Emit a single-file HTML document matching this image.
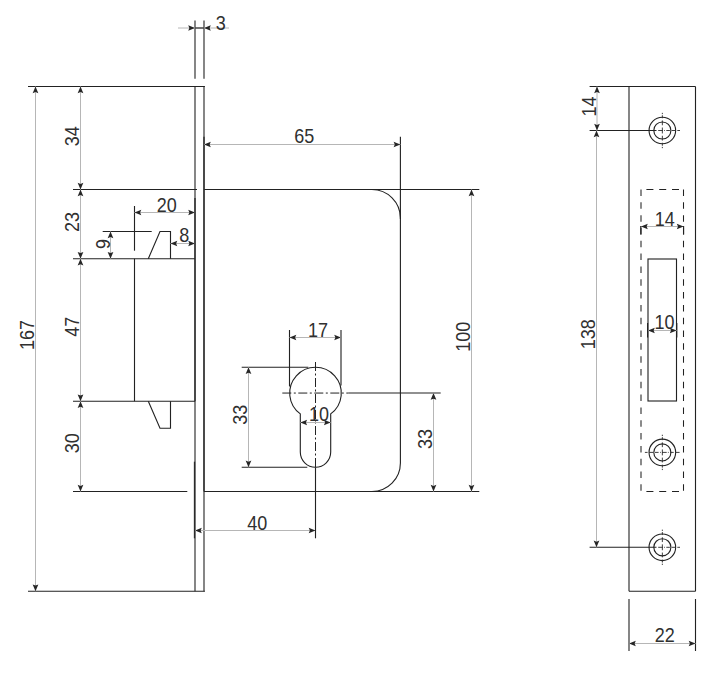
<!DOCTYPE html>
<html><head><meta charset="utf-8"><title>Lock drawing</title>
<style>
html,body{margin:0;padding:0;background:#fff}
svg{display:block}
text{font-family:"Liberation Sans",sans-serif;font-size:20px;fill:#303030}
.o{stroke:#222;stroke-width:1.12;fill:none}
.p{stroke:#222;stroke-width:1.1;fill:none}
.e{stroke:#222;stroke-width:1.1;fill:none}
.e2{stroke:#2a2a2a;stroke-width:1.3;fill:none}
.d{stroke:#b6b6b6;stroke-width:1;fill:none}
.a{fill:#262626;stroke:none}
.c{stroke:#222;stroke-width:1;fill:none;stroke-dasharray:9 2.5 2 2.5}
.c2{stroke:#2a2a2a;stroke-width:0.9;fill:none}
.hv{stroke:#222;stroke-width:1.05;fill:none;stroke-dasharray:6.5 6.32}
.hh{stroke:#222;stroke-width:1.05;fill:none;stroke-dasharray:7 5.8}
</style></head><body>
<svg width="725" height="678" viewBox="0 0 725 678">
<rect x="0" y="0" width="725" height="678" fill="#fff"/>
<line class="o" x1="28.00" y1="86.50" x2="204.90" y2="86.50"/>
<line class="o" x1="28.00" y1="591.20" x2="204.90" y2="591.20"/>
<line class="p" x1="195.00" y1="86.50" x2="195.00" y2="591.20"/>
<line class="p" x1="204.00" y1="86.50" x2="204.00" y2="591.20"/>
<line class="e" x1="195.00" y1="20.40" x2="195.00" y2="78.80"/>
<line class="e" x1="204.00" y1="20.40" x2="204.00" y2="78.80"/>
<line class="d" x1="178.00" y1="28.00" x2="229.00" y2="28.00"/>
<line class="o" x1="195.00" y1="28.00" x2="204.00" y2="28.00"/>
<polygon class="a" points="195.00,28.00 188.20,30.85 189.40,28.00 188.20,25.15"/>
<polygon class="a" points="204.00,28.00 210.80,25.15 209.60,28.00 210.80,30.85"/>
<text transform="translate(220.70 30.00) scale(0.90 1)" text-anchor="middle">3</text>
<line class="d" x1="35.50" y1="86.50" x2="35.50" y2="591.20"/>
<polygon class="a" points="35.50,86.50 38.35,93.30 35.50,92.10 32.65,93.30"/>
<polygon class="a" points="35.50,591.20 32.65,584.40 35.50,585.60 38.35,584.40"/>
<text transform="translate(34.00 335.00) rotate(-90) scale(0.90 1)" text-anchor="middle">167</text>
<line class="o" x1="73.00" y1="189.50" x2="197.00" y2="189.50"/>
<line class="o" x1="73.00" y1="258.70" x2="195.00" y2="258.70"/>
<line class="o" x1="73.00" y1="401.20" x2="195.00" y2="401.20"/>
<line class="o" x1="73.00" y1="491.50" x2="187.30" y2="491.50"/>
<line class="d" x1="80.50" y1="86.50" x2="80.50" y2="189.50"/>
<polygon class="a" points="80.50,86.50 83.35,93.30 80.50,92.10 77.65,93.30"/>
<polygon class="a" points="80.50,189.50 77.65,182.70 80.50,183.90 83.35,182.70"/>
<line class="d" x1="80.50" y1="189.50" x2="80.50" y2="258.70"/>
<polygon class="a" points="80.50,189.50 83.35,196.30 80.50,195.10 77.65,196.30"/>
<polygon class="a" points="80.50,258.70 77.65,251.90 80.50,253.10 83.35,251.90"/>
<line class="d" x1="80.50" y1="258.70" x2="80.50" y2="401.20"/>
<polygon class="a" points="80.50,258.70 83.35,265.50 80.50,264.30 77.65,265.50"/>
<polygon class="a" points="80.50,401.20 77.65,394.40 80.50,395.60 83.35,394.40"/>
<line class="d" x1="80.50" y1="401.20" x2="80.50" y2="491.50"/>
<polygon class="a" points="80.50,401.20 83.35,408.00 80.50,406.80 77.65,408.00"/>
<polygon class="a" points="80.50,491.50 77.65,484.70 80.50,485.90 83.35,484.70"/>
<text transform="translate(79.00 136.30) rotate(-90) scale(0.90 1)" text-anchor="middle">34</text>
<text transform="translate(79.00 222.00) rotate(-90) scale(0.90 1)" text-anchor="middle">23</text>
<text transform="translate(79.00 326.70) rotate(-90) scale(0.90 1)" text-anchor="middle">47</text>
<text transform="translate(79.00 443.30) rotate(-90) scale(0.90 1)" text-anchor="middle">30</text>
<line class="o" x1="134.50" y1="206.00" x2="134.50" y2="250.70"/>
<line class="o" x1="134.50" y1="258.70" x2="134.50" y2="401.20"/>
<line class="d" x1="134.50" y1="212.50" x2="195.00" y2="212.50"/>
<polygon class="a" points="134.50,212.50 141.30,209.65 140.10,212.50 141.30,215.35"/>
<polygon class="a" points="195.00,212.50 188.20,215.35 189.40,212.50 188.20,209.65"/>
<text transform="translate(166.70 212.00) scale(0.90 1)" text-anchor="middle">20</text>
<line class="o" x1="102.70" y1="231.50" x2="151.70" y2="231.50"/>
<polyline class="o" points="148.3,258.7 160,231.5 170.5,231.5 170.5,258.7"/>
<line class="d" x1="110.50" y1="231.50" x2="110.50" y2="258.70"/>
<polygon class="a" points="110.50,231.50 113.35,238.30 110.50,237.10 107.65,238.30"/>
<polygon class="a" points="110.50,258.70 107.65,251.90 110.50,253.10 113.35,251.90"/>
<text transform="translate(109.80 244.00) rotate(-90) scale(0.90 1)" text-anchor="middle">9</text>
<line class="d" x1="170.50" y1="243.50" x2="195.00" y2="243.50"/>
<polygon class="a" points="170.50,243.50 177.30,240.65 176.10,243.50 177.30,246.35"/>
<polygon class="a" points="195.00,243.50 188.20,246.35 189.40,243.50 188.20,240.65"/>
<text transform="translate(184.20 242.30) scale(0.90 1)" text-anchor="middle">8</text>
<polyline class="o" points="148.3,401.2 160,428.3 170.5,428.3 170.5,401.2"/>
<line class="o" x1="204.00" y1="189.50" x2="479.30" y2="189.50"/>
<line class="o" x1="204.00" y1="491.50" x2="479.30" y2="491.50"/>
<path class="o" d="M371.9,189.5 A28.5,28.5 0 0 1 400.4,218.0 L400.4,463.0 A28.5,28.5 0 0 1 371.9,491.5"/>
<line class="o" x1="400.40" y1="136.70" x2="400.40" y2="219.00"/>
<line class="e2" x1="204.00" y1="136.70" x2="204.00" y2="491.50"/>
<line class="e2" x1="195.00" y1="198.00" x2="195.00" y2="401.20"/>
<line class="d" x1="204.00" y1="144.50" x2="400.40" y2="144.50"/>
<polygon class="a" points="204.00,144.50 210.80,141.65 209.60,144.50 210.80,147.35"/>
<polygon class="a" points="400.40,144.50 393.60,147.35 394.80,144.50 393.60,141.65"/>
<text transform="translate(304.30 143.30) scale(0.90 1)" text-anchor="middle">65</text>
<line class="d" x1="471.50" y1="189.50" x2="471.50" y2="491.50"/>
<polygon class="a" points="471.50,189.50 474.35,196.30 471.50,195.10 468.65,196.30"/>
<polygon class="a" points="471.50,491.50 468.65,484.70 471.50,485.90 474.35,484.70"/>
<text transform="translate(470.30 336.70) rotate(-90) scale(0.90 1)" text-anchor="middle">100</text>
<line class="e2" x1="194.50" y1="461.70" x2="194.50" y2="538.30"/>
<line class="d" x1="195.00" y1="530.50" x2="315.50" y2="530.50"/>
<polygon class="a" points="195.00,530.50 201.80,527.65 200.60,530.50 201.80,533.35"/>
<polygon class="a" points="315.50,530.50 308.70,533.35 309.90,530.50 308.70,527.65"/>
<text transform="translate(257.30 530.00) scale(0.90 1)" text-anchor="middle">40</text>
<path class="o" d="M300.30,413.90 A25.80,25.80 0 1 1 330.70,413.90 L330.70,452.10 A15.20,15.20 0 0 1 300.30,452.10 Z"/>
<line class="c" x1="315.50" y1="362" x2="315.50" y2="467.3"/>
<line class="o" x1="315.50" y1="467.30" x2="315.50" y2="538.30"/>
<line class="c" x1="282.3" y1="393.05" x2="348.3" y2="393.05"/>
<line class="o" x1="348.30" y1="393.05" x2="440.70" y2="393.05"/>
<line class="o" x1="289.50" y1="330.00" x2="289.50" y2="386.50"/>
<line class="o" x1="341.00" y1="330.00" x2="341.00" y2="385.50"/>
<line class="d" x1="289.50" y1="337.50" x2="341.00" y2="337.50"/>
<polygon class="a" points="289.50,337.50 296.30,334.65 295.10,337.50 296.30,340.35"/>
<polygon class="a" points="341.00,337.50 334.20,340.35 335.40,337.50 334.20,334.65"/>
<text transform="translate(318.00 336.80) scale(0.90 1)" text-anchor="middle">17</text>
<line class="d" x1="300.30" y1="422.50" x2="330.70" y2="422.50"/>
<polygon class="a" points="300.30,422.50 307.10,419.65 305.90,422.50 307.10,425.35"/>
<polygon class="a" points="330.70,422.50 323.90,425.35 325.10,422.50 323.90,419.65"/>
<text transform="translate(319.00 420.70) scale(0.90 1)" text-anchor="middle">10</text>
<line class="o" x1="241.70" y1="367.25" x2="308.30" y2="367.25"/>
<line class="o" x1="241.70" y1="467.30" x2="307.30" y2="467.30"/>
<line class="d" x1="248.50" y1="367.25" x2="248.50" y2="467.30"/>
<polygon class="a" points="248.50,367.25 251.35,374.05 248.50,372.85 245.65,374.05"/>
<polygon class="a" points="248.50,467.30 245.65,460.50 248.50,461.70 251.35,460.50"/>
<text transform="translate(246.90 414.70) rotate(-90) scale(0.90 1)" text-anchor="middle">33</text>
<line class="d" x1="433.50" y1="393.05" x2="433.50" y2="491.50"/>
<polygon class="a" points="433.50,393.05 436.35,399.85 433.50,398.65 430.65,399.85"/>
<polygon class="a" points="433.50,491.50 430.65,484.70 433.50,485.90 436.35,484.70"/>
<text transform="translate(432.30 439.00) rotate(-90) scale(0.90 1)" text-anchor="middle">33</text>
<line class="o" x1="589.60" y1="86.50" x2="695.50" y2="86.50"/>
<line class="p" x1="629.00" y1="86.50" x2="629.00" y2="591.20"/>
<line class="o" x1="695.50" y1="86.50" x2="695.50" y2="591.20"/>
<line class="o" x1="629.00" y1="591.20" x2="695.50" y2="591.20"/>
<circle class="o" cx="662.35" cy="130.50" r="13.3"/>
<circle class="o" cx="662.35" cy="130.50" r="8.55"/>
<line class="o" x1="589.60" y1="130.50" x2="656.50" y2="130.50"/>
<line class="c2" stroke-dasharray="4.7 1.2 0.8 1.4 3.6 1.8 4.1 1.5 2.7 10" x1="658.2" y1="130.50" x2="680" y2="130.50"/>
<line class="c2" stroke-dasharray="1.3 1.1 3 2.2 4.8 2.3 5.9 2.3 4.8 2.2 3 1.1 1.3 10" x1="662.35" y1="112.85" x2="662.35" y2="148.15"/>
<circle class="o" cx="662.35" cy="452.40" r="13.3"/>
<circle class="o" cx="662.35" cy="452.40" r="8.55"/>
<line class="c2" stroke-dasharray="2.7 1.5 4.1 1.8 3.6 1.4 0.8 1.2 4.7 1.2 0.8 1.4 3.6 1.8 4.1 1.5 2.7 10" x1="644.9" y1="452.40" x2="680" y2="452.40"/>
<line class="c2" stroke-dasharray="1.3 1.1 3 2.2 4.8 2.3 5.9 2.3 4.8 2.2 3 1.1 1.3 10" x1="662.35" y1="434.75" x2="662.35" y2="470.05"/>
<circle class="o" cx="662.35" cy="547.30" r="13.3"/>
<circle class="o" cx="662.35" cy="547.30" r="8.55"/>
<line class="o" x1="589.60" y1="547.30" x2="656.50" y2="547.30"/>
<line class="c2" stroke-dasharray="4.7 1.2 0.8 1.4 3.6 1.8 4.1 1.5 2.7 10" x1="658.2" y1="547.30" x2="680" y2="547.30"/>
<line class="c2" stroke-dasharray="1.3 1.1 3 2.2 4.8 2.3 5.9 2.3 4.8 2.2 3 1.1 1.3 10" x1="662.35" y1="529.65" x2="662.35" y2="564.95"/>
<line class="d" x1="597.00" y1="86.50" x2="597.00" y2="130.50"/>
<polygon class="a" points="597.00,86.50 599.85,93.30 597.00,92.10 594.15,93.30"/>
<polygon class="a" points="597.00,130.50 594.15,123.70 597.00,124.90 599.85,123.70"/>
<text transform="translate(595.70 106.40) rotate(-90) scale(0.90 1)" text-anchor="middle">14</text>
<line class="d" x1="596.50" y1="130.50" x2="596.50" y2="547.30"/>
<polygon class="a" points="596.50,130.50 599.35,137.30 596.50,136.10 593.65,137.30"/>
<polygon class="a" points="596.50,547.30 593.65,540.50 596.50,541.70 599.35,540.50"/>
<text transform="translate(595.20 334.30) rotate(-90) scale(0.90 1)" text-anchor="middle">138</text>
<line class="hv" x1="641" y1="189.5" x2="641" y2="491.5"/>
<line class="hv" x1="683.5" y1="189.5" x2="683.5" y2="491.5"/>
<line class="hh" x1="646.4" y1="189.5" x2="680" y2="189.5"/>
<line class="hh" x1="646.4" y1="491.5" x2="680" y2="491.5"/>
<line class="d" x1="641.00" y1="226.50" x2="683.60" y2="226.50"/>
<polygon class="a" points="641.00,226.50 647.80,223.65 646.60,226.50 647.80,229.35"/>
<polygon class="a" points="683.60,226.50 676.80,229.35 678.00,226.50 676.80,223.65"/>
<line class="e2" x1="640.80" y1="226.00" x2="640.80" y2="234.50"/>
<line class="o" x1="683.60" y1="226.00" x2="683.60" y2="234.50"/>
<text transform="translate(664.80 225.90) scale(0.90 1)" text-anchor="middle">14</text>
<rect class="o" x="648" y="259" width="28.5" height="142"/>
<line class="o" x1="647.60" y1="323.00" x2="647.60" y2="337.50"/>
<line class="o" x1="676.80" y1="323.00" x2="676.80" y2="337.50"/>
<line class="d" x1="648.00" y1="330.50" x2="676.60" y2="330.50"/>
<polygon class="a" points="648.00,330.50 654.80,327.65 653.60,330.50 654.80,333.35"/>
<polygon class="a" points="676.60,330.50 669.80,333.35 671.00,330.50 669.80,327.65"/>
<text transform="translate(664.60 329.00) scale(0.90 1)" text-anchor="middle">10</text>
<line class="e" x1="629.00" y1="599.00" x2="629.00" y2="651.00"/>
<line class="o" x1="695.50" y1="599.00" x2="695.50" y2="651.00"/>
<line class="d" x1="629.00" y1="643.50" x2="695.50" y2="643.50"/>
<polygon class="a" points="629.00,643.50 635.80,640.65 634.60,643.50 635.80,646.35"/>
<polygon class="a" points="695.50,643.50 688.70,646.35 689.90,643.50 688.70,640.65"/>
<text transform="translate(664.80 641.60) scale(0.90 1)" text-anchor="middle">22</text>
</svg>
</body></html>
